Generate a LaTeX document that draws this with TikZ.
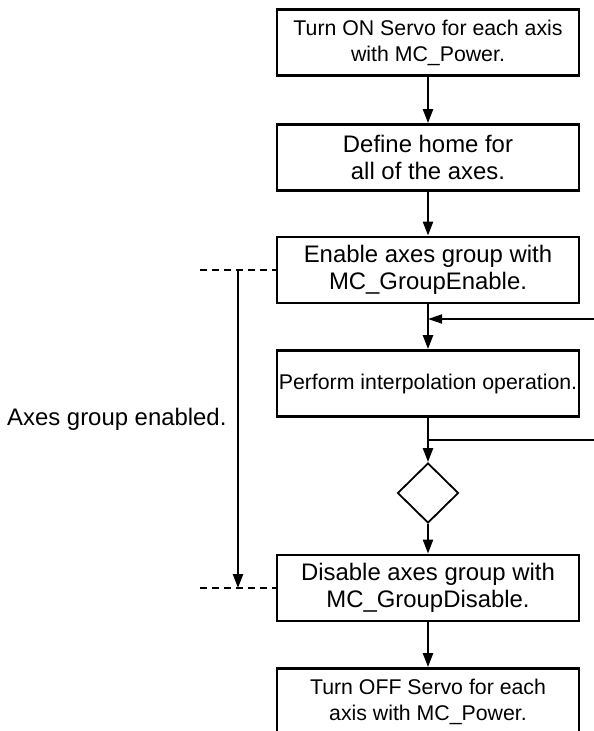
\documentclass[tikz,border=0pt]{standalone}
\usepackage{fontspec}
\setmainfont{Liberation Sans}
\usetikzlibrary{arrows.meta,shapes.geometric}

\tikzset{
    caja/.style={draw,line width=2.8pt,minimum width=302pt,minimum height=66pt,
        inner sep=0pt,align=center,font=\fontsize{21.3}{26}\selectfont},
    cajagrande/.style={caja,font=\fontsize{23.9}{27}\selectfont},
    decision/.style={draw,diamond,line width=1.8pt,minimum width=61pt,
        minimum height=60pt,inner sep=0pt},
    flecha/.style={line width=2.3pt,-{Triangle[length=14pt,width=10pt]}},
    retorno/.style={line width=1.8pt},
    cota/.style={line width=2.2pt,dash pattern=on 7pt off 5pt}
}

\begin{document}
\begin{tikzpicture}[x=1pt,y=-1pt,line cap=butt,line join=miter]
        \clip (0,0) rectangle (594,731);

        % Secuencia principal
        \node[caja] (servoon) at (428,42.5) {Turn ON Servo for each axis\\with MC\_Power.};
        \node[cajagrande] (origen) at (428,157.5) {Define home for\\all of the axes.};
        \node[cajagrande] (habilitar) at (428,270) {Enable axes group with\\MC\_GroupEnable.};
        \node[caja] (interp) at (428,383.5) {Perform interpolation operation.};
        \node[decision] (rombo) at (428,493) {};
        \node[cajagrande] (deshabilitar) at (428,588) {Disable axes group with\\MC\_GroupDisable.};
        \node[caja] (servooff) at (428,701.5) {Turn OFF Servo for each\\axis with MC\_Power.};

        \draw[flecha] (servoon) -- (origen);
        \draw[flecha] (origen) -- (habilitar);
        \draw[flecha] (habilitar) -- (interp);
        \draw[flecha] (interp) -- (rombo);
        \draw[flecha] (rombo) -- (deshabilitar);
        \draw[flecha] (deshabilitar) -- (servooff);

        % Lazo de repeticion
        \coordinate (entrada) at (594,319);
        \coordinate (union) at (428,319);
        \coordinate (salida) at (594,440);
        \coordinate (rama) at (428,440);
        \draw[retorno,-{Triangle[length=14pt,width=9pt]}] (entrada) -- (union);
        \draw[retorno] (rama) -- (salida);

        % Intervalo con el grupo habilitado
        \coordinate (cotaarriba) at (200,270);
        \coordinate (cotaabajo) at (200,588);
        \coordinate (iniciogrupo) at (238,270);
        \coordinate (fingrupo) at (238,588);
        \draw[cota] (cotaarriba) -- (habilitar.west);
        \draw[cota] (cotaabajo) -- (deshabilitar.west);
        \draw[flecha] (iniciogrupo) -- (fingrupo);
        \node[anchor=base east,font=\fontsize{23.9}{27}\selectfont] (rotulo) at (230,425) {Axes group enabled.};
    \end{tikzpicture}
\end{document}
